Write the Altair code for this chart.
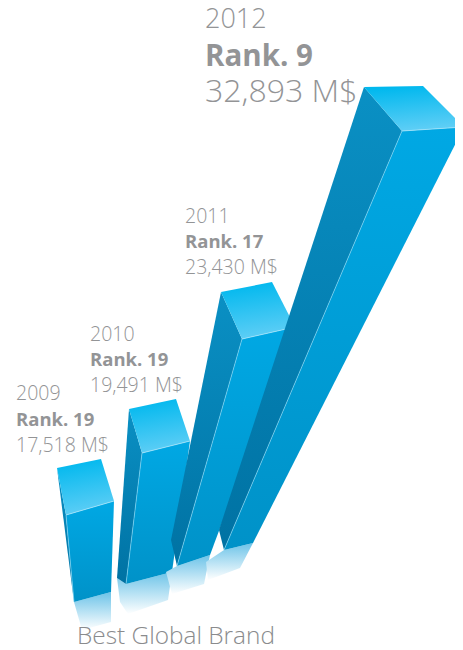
import altair as alt
import pandas as pd

years = ["2009", "2010", "2011", "2012"]
ranks = ["Rank. 19", "Rank. 19", "Rank. 17", "Rank. 9"]
values = ["17,518 M$", "19,491 M$", "23,430 M$", "32,893 M$"]
caption = "Best Global Brand"

top_faces = [
    [(57, 468), (101, 459), (114, 501), (66, 515)],
    [(129, 409), (176, 399), (190, 441), (142, 453)],
    [(221, 292), (272, 282), (295, 327), (242, 339)],
    [(364, 87), (423, 86), (464, 127), (402, 131)],
]
front_faces = [
    [(66, 515), (114, 501), (111, 592), (74, 602)],
    [(142, 453), (190, 441), (172, 572), (126, 584)],
    [(242, 339), (295, 327), (210, 555), (177, 566)],
    [(402, 131), (464, 127), (253, 543), (224, 550)],
]
left_faces = [
    [(57, 468), (66, 515), (74, 602)],
    [(129, 409), (142, 453), (126, 584), (117, 578)],
    [(221, 292), (242, 339), (177, 566), (171, 540)],
    [(364, 87), (402, 131), (224, 550), (219, 530)],
]
glow_faces = [
    [(74, 602), (111, 592), (111, 622), (82, 630)],
    [(117, 578), (126, 584), (172, 572), (168, 600), (128, 614), (120, 602)],
    [(177, 566), (210, 555), (204, 584), (172, 594), (166, 572)],
    [(224, 550), (253, 543), (240, 568), (208, 580), (206, 562)],
]

text_x = [16, 90, 185, 205]
year_y = [400, 341, 223, 28]
rank_y = [426, 366, 248, 66]
value_y = [452, 392, 274, 102]
year_size = [19.5, 19.5, 19.5, 27]
rank_size = [18.5, 18.5, 18.5, 29.5]
value_size = [19.5, 19.5, 19.5, 32]

rows = []
for bar, year in enumerate(years):
    for face, polys in (("glow", glow_faces), ("left", left_faces), ("front", front_faces), ("top", top_faces)):
        for i, (x, y) in enumerate(polys[bar]):
            rows.append({"year": year, "face": face, "i": i, "x": x, "y": y})
df = pd.DataFrame(rows)

X = alt.X("x:Q", axis=None, scale=alt.Scale(domain=[8, 455], nice=False, zero=False))
Y = alt.Y("y:Q", axis=None, scale=alt.Scale(domain=[8, 650], nice=False, zero=False, reverse=True))


def grad(c0, c1, x1=0.5, y1=0.0, x2=0.5, y2=1.0):
    return {"gradient": "linear", "x1": x1, "y1": y1, "x2": x2, "y2": y2,
            "stops": [{"offset": 0, "color": c0}, {"offset": 1, "color": c1}]}


fills = {
    "glow": grad("#6cc3e8", "#ffffff"),
    "left": grad("#0a90c4", "#0072a3"),
    "front": grad("#00a8e4", "#0092c8"),
    "top": grad("#00b8ee", "#62cff6", 0.4, 0.0, 0.6, 1.0),
}

layers = []
for year in years:
    for face in ("glow", "left", "front", "top"):
        layers.append(
            alt.Chart(df)
            .transform_filter(f"datum.year == '{year}' && datum.face == '{face}'")
            .mark_line(fill=fills[face], interpolate="linear-closed", strokeWidth=0, stroke="transparent")
            .encode(x=X, y=Y, order=alt.Order("i:Q"))
        )
    # pale highlight along the front edge of the solid
    bar = years.index(year)
    ridge_df = pd.DataFrame([{"x": a, "y": b, "i": k} for k, (a, b) in enumerate(left_faces[bar][1:3])])
    layers.append(
        alt.Chart(ridge_df).mark_line(stroke="#8fdcf6", strokeWidth=1, opacity=0.6)
        .encode(x=X, y=Y, order=alt.Order("i:Q"))
    )
    lip = [top_faces[bar][3], top_faces[bar][2]]
    lip_df = pd.DataFrame([{"x": a, "y": b, "i": k} for k, (a, b) in enumerate(lip)])
    layers.append(
        alt.Chart(lip_df).mark_line(stroke="#a5e4f9", strokeWidth=1, opacity=0.8)
        .encode(x=X, y=Y, order=alt.Order("i:Q"))
    )

FONT = "Open Sans"
GREY = "#939496"
for k in range(4):
    for t, yy, s, w in ((years[k], year_y[k], year_size[k], 300),
                        (ranks[k], rank_y[k], rank_size[k], 700),
                        (values[k], value_y[k], value_size[k], 300)):
        one = pd.DataFrame([{"x": text_x[k], "y": yy, "t": t}])
        layers.append(
            alt.Chart(one).mark_text(align="left", baseline="alphabetic", font=FONT, fontWeight=w,
                                     fontSize=s, color=GREY)
            .encode(x=X, y=Y, text="t:N")
        )
cap = pd.DataFrame([{"x": 77, "y": 644, "t": caption}])
layers.append(
    alt.Chart(cap).mark_text(align="left", baseline="alphabetic", font=FONT, fontWeight=300,
                             fontSize=24.4, color="#8a8b8d")
    .encode(x=X, y=Y, text="t:N")
)

chart = (
    alt.layer(*layers)
    .properties(width=447, height=642, padding=0, background="#ffffff",
                autosize=alt.AutoSizeParams(type="none"))
    .configure_view(stroke=None)
)
chart.save("out.html", embed_options={"renderer": "svg", "actions": False})
